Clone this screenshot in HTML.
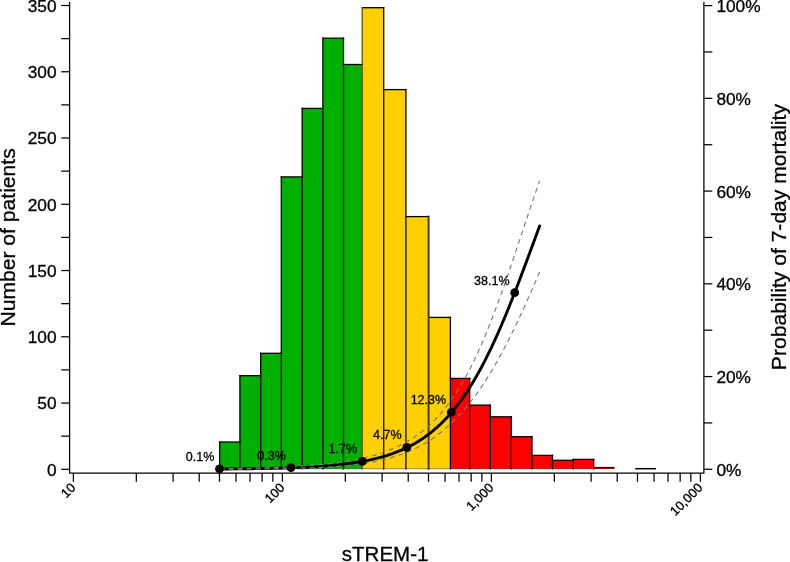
<!DOCTYPE html>
<html><head><meta charset="utf-8"><style>
html,body{margin:0;padding:0;background:#fff;width:790px;height:562px;overflow:hidden}
svg{display:block;font-family:"Liberation Sans",sans-serif;will-change:transform}
text{stroke:#000;stroke-width:0.3px}
</style></head><body>
<svg width="790" height="562" viewBox="0 0 790 562">
<rect width="790" height="562" fill="#fff"/>
<rect x="219.70" y="442.00" width="20.20" height="26.80" fill="#00b000"/>
<rect x="239.90" y="375.70" width="20.80" height="93.10" fill="#00b000"/>
<rect x="260.70" y="353.30" width="20.60" height="115.50" fill="#00b000"/>
<rect x="281.30" y="176.90" width="20.90" height="291.90" fill="#00b000"/>
<rect x="302.20" y="108.40" width="20.70" height="360.40" fill="#00b000"/>
<rect x="322.90" y="38.20" width="20.60" height="430.60" fill="#00b000"/>
<rect x="343.50" y="64.50" width="18.70" height="404.30" fill="#00b000"/>
<rect x="362.20" y="7.70" width="21.50" height="461.10" fill="#ffd000"/>
<rect x="383.70" y="89.60" width="22.20" height="379.20" fill="#ffd000"/>
<rect x="405.90" y="216.60" width="22.70" height="252.20" fill="#ffd000"/>
<rect x="428.60" y="317.40" width="21.80" height="151.40" fill="#ffd000"/>
<rect x="450.40" y="378.40" width="19.30" height="90.40" fill="#ff0000"/>
<rect x="469.70" y="405.10" width="20.60" height="63.70" fill="#ff0000"/>
<rect x="490.30" y="416.80" width="20.90" height="52.00" fill="#ff0000"/>
<rect x="511.20" y="436.70" width="20.80" height="32.10" fill="#ff0000"/>
<rect x="532.00" y="455.40" width="20.50" height="13.40" fill="#ff0000"/>
<rect x="552.50" y="460.30" width="20.70" height="8.50" fill="#ff0000"/>
<rect x="573.20" y="459.40" width="20.50" height="9.40" fill="#ff0000"/>
<rect x="593.70" y="467.30" width="20.70" height="1.50" fill="#ff0000"/>
<g stroke="#000" stroke-width="1.3" fill="none" stroke-linecap="square">
<line x1="219.70" y1="442.00" x2="239.90" y2="442.00"/>
<line x1="239.90" y1="375.70" x2="260.70" y2="375.70"/>
<line x1="260.70" y1="353.30" x2="281.30" y2="353.30"/>
<line x1="281.30" y1="176.90" x2="302.20" y2="176.90"/>
<line x1="302.20" y1="108.40" x2="322.90" y2="108.40"/>
<line x1="322.90" y1="38.20" x2="343.50" y2="38.20"/>
<line x1="343.50" y1="64.50" x2="362.20" y2="64.50"/>
<line x1="362.20" y1="7.70" x2="383.70" y2="7.70"/>
<line x1="383.70" y1="89.60" x2="405.90" y2="89.60"/>
<line x1="405.90" y1="216.60" x2="428.60" y2="216.60"/>
<line x1="428.60" y1="317.40" x2="450.40" y2="317.40"/>
<line x1="450.40" y1="378.40" x2="469.70" y2="378.40"/>
<line x1="469.70" y1="405.10" x2="490.30" y2="405.10"/>
<line x1="490.30" y1="416.80" x2="511.20" y2="416.80"/>
<line x1="511.20" y1="436.70" x2="532.00" y2="436.70"/>
<line x1="532.00" y1="455.40" x2="552.50" y2="455.40"/>
<line x1="552.50" y1="460.30" x2="573.20" y2="460.30"/>
<line x1="573.20" y1="459.40" x2="593.70" y2="459.40"/>
<line x1="219.70" y1="442.00" x2="219.70" y2="468.80" stroke="#000" stroke-width="1.3"/>
<line x1="239.90" y1="375.70" x2="239.90" y2="468.80" stroke="#000" stroke-width="1.3"/>
<line x1="260.70" y1="353.30" x2="260.70" y2="468.80" stroke="#000" stroke-width="1.3"/>
<line x1="281.30" y1="176.90" x2="281.30" y2="468.80" stroke="#000" stroke-width="1.3"/>
<line x1="302.20" y1="108.40" x2="302.20" y2="468.80" stroke="#000" stroke-width="1.3"/>
<line x1="322.90" y1="38.20" x2="322.90" y2="468.80" stroke="#000" stroke-width="1.3"/>
<line x1="343.50" y1="38.20" x2="343.50" y2="468.80" stroke="#000" stroke-width="1.3"/>
<line x1="362.20" y1="7.70" x2="362.20" y2="468.80" stroke="#5a5800" stroke-width="1.3"/>
<line x1="383.70" y1="7.70" x2="383.70" y2="468.80" stroke="#000" stroke-width="1.3"/>
<line x1="405.90" y1="89.60" x2="405.90" y2="468.80" stroke="#000" stroke-width="1.3"/>
<line x1="428.60" y1="216.60" x2="428.60" y2="468.80" stroke="#403800" stroke-width="1.9"/>
<line x1="450.40" y1="317.40" x2="450.40" y2="468.80" stroke="#000" stroke-width="1.3"/>
<line x1="469.70" y1="378.40" x2="469.70" y2="468.80" stroke="#000" stroke-width="1.3"/>
<line x1="490.30" y1="405.10" x2="490.30" y2="468.80" stroke="#000" stroke-width="1.3"/>
<line x1="511.20" y1="416.80" x2="511.20" y2="468.80" stroke="#000" stroke-width="1.3"/>
<line x1="532.00" y1="436.70" x2="532.00" y2="468.80" stroke="#000" stroke-width="1.3"/>
<line x1="552.50" y1="455.40" x2="552.50" y2="468.80" stroke="#000" stroke-width="1.3"/>
<line x1="573.20" y1="459.40" x2="573.20" y2="468.80" stroke="#000" stroke-width="1.3"/>
<line x1="593.70" y1="459.40" x2="593.70" y2="468.80" stroke="#000" stroke-width="1.3"/>
<line x1="219.70" y1="468.80" x2="593.70" y2="468.80" stroke-opacity="0.4" stroke-width="1"/>
</g>
<rect x="593.7" y="467.3" width="20.7" height="1.5" fill="#a00000"/>
<line x1="593.7" y1="467.4" x2="614.4" y2="467.4" stroke="#000" stroke-width="0.9"/>
<line x1="635.2" y1="468.7" x2="656.0" y2="468.7" stroke="#000" stroke-width="1.5"/>
<path d="M219.60,469.02 L222.80,469.00 L226.00,468.97 L229.20,468.95 L232.40,468.92 L235.60,468.89 L238.80,468.86 L242.00,468.83 L245.20,468.79 L248.40,468.75 L251.60,468.71 L254.80,468.66 L258.00,468.61 L261.20,468.56 L264.40,468.50 L267.60,468.43 L270.80,468.37 L274.00,468.29 L277.20,468.22 L280.40,468.13 L283.60,468.04 L286.80,467.94 L290.00,467.84 L293.20,467.72 L296.40,467.60 L299.60,467.47 L302.80,467.33 L306.00,467.18 L309.20,467.01 L312.40,466.83 L315.60,466.64 L318.80,466.44 L322.00,466.21 L325.20,465.98 L328.40,465.72 L331.60,465.44 L334.80,465.14 L338.00,464.82 L341.20,464.48 L344.40,464.11 L347.60,463.71 L350.80,463.27 L354.00,462.81 L357.20,462.31 L360.40,461.78 L363.60,461.20 L366.80,460.58 L370.00,459.92 L373.20,459.20 L376.40,458.43 L379.60,457.61 L382.80,456.72 L386.00,455.77 L389.20,454.74 L392.40,453.65 L395.60,452.47 L398.80,451.21 L402.00,449.86 L405.20,448.41 L408.40,446.86 L411.60,445.20 L414.80,443.43 L418.00,441.54 L421.20,439.51 L424.40,437.35 L427.60,435.04 L430.80,432.58 L434.00,429.96 L437.20,427.17 L440.40,424.21 L443.60,421.06 L446.80,417.72 L450.00,414.17 L453.20,410.42 L456.40,406.45 L459.60,402.26 L462.80,397.84 L466.00,393.18 L469.20,388.28 L472.40,383.14 L475.60,377.75 L478.80,372.11 L482.00,366.22 L485.20,360.07 L488.40,353.68 L491.60,347.04 L494.80,340.17 L498.00,333.06 L501.20,325.72 L504.40,318.18 L507.60,310.43 L510.80,302.50 L514.00,294.40 L517.20,286.15 L520.40,277.77 L523.60,269.28 L526.80,260.70 L530.00,252.06 L533.20,243.38 L536.40,234.67 L539.60,225.98" fill="none" stroke="#000" stroke-width="2.9" stroke-linecap="round"/>
<path d="M219.60,468.70 L222.80,468.66 L226.00,468.62 L229.20,468.57 L232.40,468.52 L235.60,468.47 L238.80,468.42 L242.00,468.36 L245.20,468.29 L248.40,468.23 L251.60,468.15 L254.80,468.08 L258.00,467.99 L261.20,467.91 L264.40,467.81 L267.60,467.71 L270.80,467.60 L274.00,467.49 L277.20,467.37 L280.40,467.24 L283.60,467.10 L286.80,466.95 L290.00,466.79 L293.20,466.62 L296.40,466.44 L299.60,466.25 L302.80,466.04 L306.00,465.82 L309.20,465.59 L312.40,465.34 L315.60,465.07 L318.80,464.79 L322.00,464.48 L325.20,464.16 L328.40,463.81 L331.60,463.44 L334.80,463.04 L338.00,462.62 L341.20,462.16 L344.40,461.68 L347.60,461.17 L350.80,460.61 L354.00,460.02 L357.20,459.40 L360.40,458.72 L363.60,458.01 L366.80,457.24 L370.00,456.42 L373.20,455.54 L376.40,454.60 L379.60,453.60 L382.80,452.53 L386.00,451.39 L389.20,450.16 L392.40,448.86 L395.60,447.46 L398.80,445.96 L402.00,444.36 L405.20,442.65 L408.40,440.82 L411.60,438.87 L414.80,436.77 L418.00,434.54 L421.20,432.14 L424.40,429.59 L427.60,426.85 L430.80,423.93 L434.00,420.81 L437.20,417.49 L440.40,413.94 L443.60,410.16 L446.80,406.13 L450.00,401.85 L453.20,397.30 L456.40,392.48 L459.60,387.37 L462.80,381.97 L466.00,376.27 L469.20,370.27 L472.40,363.95 L475.60,357.33 L478.80,350.40 L482.00,343.16 L485.20,335.62 L488.40,327.80 L491.60,319.70 L494.80,311.33 L498.00,302.73 L501.20,293.89 L504.40,284.86 L507.60,275.65 L510.80,266.30 L514.00,256.83 L517.20,247.28 L520.40,237.68 L523.60,228.06 L526.80,218.45 L530.00,208.90 L533.20,199.44 L536.40,190.09 L539.60,180.89" fill="none" stroke="#7a7a7a" stroke-width="1.15" stroke-dasharray="5,4"/>
<path d="M219.60,469.17 L222.80,469.16 L226.00,469.14 L229.20,469.13 L232.40,469.11 L235.60,469.10 L238.80,469.08 L242.00,469.06 L245.20,469.04 L248.40,469.02 L251.60,468.99 L254.80,468.96 L258.00,468.93 L261.20,468.90 L264.40,468.87 L267.60,468.83 L270.80,468.79 L274.00,468.74 L277.20,468.69 L280.40,468.64 L283.60,468.58 L286.80,468.52 L290.00,468.45 L293.20,468.37 L296.40,468.29 L299.60,468.20 L302.80,468.11 L306.00,468.00 L309.20,467.89 L312.40,467.77 L315.60,467.63 L318.80,467.49 L322.00,467.33 L325.20,467.15 L328.40,466.97 L331.60,466.76 L334.80,466.54 L338.00,466.31 L341.20,466.05 L344.40,465.76 L347.60,465.46 L350.80,465.13 L354.00,464.77 L357.20,464.38 L360.40,463.96 L363.60,463.51 L366.80,463.01 L370.00,462.48 L373.20,461.90 L376.40,461.28 L379.60,460.61 L382.80,459.88 L386.00,459.10 L389.20,458.26 L392.40,457.35 L395.60,456.37 L398.80,455.32 L402.00,454.19 L405.20,452.97 L408.40,451.67 L411.60,450.28 L414.80,448.79 L418.00,447.20 L421.20,445.50 L424.40,443.68 L427.60,441.75 L430.80,439.70 L434.00,437.51 L437.20,435.20 L440.40,432.74 L443.60,430.14 L446.80,427.40 L450.00,424.50 L453.20,421.44 L456.40,418.22 L459.60,414.83 L462.80,411.27 L466.00,407.53 L469.20,403.62 L472.40,399.52 L475.60,395.23 L478.80,390.76 L482.00,386.10 L485.20,381.24 L488.40,376.20 L491.60,370.96 L494.80,365.52 L498.00,359.90 L501.20,354.09 L504.40,348.09 L507.60,341.91 L510.80,335.56 L514.00,329.04 L517.20,322.36 L520.40,315.53 L523.60,308.56 L526.80,301.45 L530.00,294.22 L533.20,286.89 L536.40,279.46 L539.60,271.96" fill="none" stroke="#7a7a7a" stroke-width="1.15" stroke-dasharray="5,4"/>
<circle cx="219.5" cy="468.9" r="4.4" fill="#000"/>
<circle cx="291.0" cy="467.6" r="4.4" fill="#000"/>
<circle cx="362.3" cy="461.4" r="4.4" fill="#000"/>
<circle cx="406.8" cy="447.4" r="4.4" fill="#000"/>
<circle cx="451.3" cy="412.4" r="4.4" fill="#000"/>
<circle cx="514.7" cy="292.7" r="4.4" fill="#000"/>
<g font-size="12.5" fill="#000" text-anchor="end">
<text x="214.3" y="460.9">0.1%</text>
<text x="285.8" y="459.6">0.3%</text>
<text x="357.1" y="453.4">1.7%</text>
<text x="401.6" y="439.4">4.7%</text>
<text x="446.1" y="404.4">12.3%</text>
<text x="509.5" y="284.7">38.1%</text>
</g>
<g stroke="#000" stroke-width="1.25" fill="none" stroke-linejoin="round">
<path d="M69.6,2.0 V473.0 H703.9 V2.0"/>
<line x1="61.2" y1="469.30" x2="69.6" y2="469.30"/>
<line x1="61.2" y1="436.17" x2="69.6" y2="436.17"/>
<line x1="61.2" y1="403.04" x2="69.6" y2="403.04"/>
<line x1="61.2" y1="369.91" x2="69.6" y2="369.91"/>
<line x1="61.2" y1="336.79" x2="69.6" y2="336.79"/>
<line x1="61.2" y1="303.66" x2="69.6" y2="303.66"/>
<line x1="61.2" y1="270.53" x2="69.6" y2="270.53"/>
<line x1="61.2" y1="237.40" x2="69.6" y2="237.40"/>
<line x1="61.2" y1="204.27" x2="69.6" y2="204.27"/>
<line x1="61.2" y1="171.14" x2="69.6" y2="171.14"/>
<line x1="61.2" y1="138.01" x2="69.6" y2="138.01"/>
<line x1="61.2" y1="104.89" x2="69.6" y2="104.89"/>
<line x1="61.2" y1="71.76" x2="69.6" y2="71.76"/>
<line x1="61.2" y1="38.63" x2="69.6" y2="38.63"/>
<line x1="61.2" y1="5.50" x2="69.6" y2="5.50"/>
<line x1="703.9" y1="469.30" x2="712.3" y2="469.30"/>
<line x1="703.9" y1="422.93" x2="712.3" y2="422.93"/>
<line x1="703.9" y1="376.56" x2="712.3" y2="376.56"/>
<line x1="703.9" y1="330.19" x2="712.3" y2="330.19"/>
<line x1="703.9" y1="283.82" x2="712.3" y2="283.82"/>
<line x1="703.9" y1="237.45" x2="712.3" y2="237.45"/>
<line x1="703.9" y1="191.08" x2="712.3" y2="191.08"/>
<line x1="703.9" y1="144.71" x2="712.3" y2="144.71"/>
<line x1="703.9" y1="98.34" x2="712.3" y2="98.34"/>
<line x1="703.9" y1="51.97" x2="712.3" y2="51.97"/>
<line x1="703.9" y1="5.60" x2="712.3" y2="5.60"/>
<line x1="73.40" y1="473.0" x2="73.40" y2="481.8"/>
<line x1="136.32" y1="473.0" x2="136.32" y2="481.8"/>
<line x1="173.12" y1="473.0" x2="173.12" y2="481.8"/>
<line x1="199.23" y1="473.0" x2="199.23" y2="481.8"/>
<line x1="219.48" y1="473.0" x2="219.48" y2="481.8"/>
<line x1="236.03" y1="473.0" x2="236.03" y2="481.8"/>
<line x1="250.03" y1="473.0" x2="250.03" y2="481.8"/>
<line x1="262.15" y1="473.0" x2="262.15" y2="481.8"/>
<line x1="272.84" y1="473.0" x2="272.84" y2="481.8"/>
<line x1="282.40" y1="473.0" x2="282.40" y2="481.8"/>
<line x1="345.32" y1="473.0" x2="345.32" y2="481.8"/>
<line x1="382.12" y1="473.0" x2="382.12" y2="481.8"/>
<line x1="408.23" y1="473.0" x2="408.23" y2="481.8"/>
<line x1="428.48" y1="473.0" x2="428.48" y2="481.8"/>
<line x1="445.03" y1="473.0" x2="445.03" y2="481.8"/>
<line x1="459.03" y1="473.0" x2="459.03" y2="481.8"/>
<line x1="471.15" y1="473.0" x2="471.15" y2="481.8"/>
<line x1="481.84" y1="473.0" x2="481.84" y2="481.8"/>
<line x1="491.40" y1="473.0" x2="491.40" y2="481.8"/>
<line x1="554.32" y1="473.0" x2="554.32" y2="481.8"/>
<line x1="591.12" y1="473.0" x2="591.12" y2="481.8"/>
<line x1="617.23" y1="473.0" x2="617.23" y2="481.8"/>
<line x1="637.48" y1="473.0" x2="637.48" y2="481.8"/>
<line x1="654.03" y1="473.0" x2="654.03" y2="481.8"/>
<line x1="668.03" y1="473.0" x2="668.03" y2="481.8"/>
<line x1="680.15" y1="473.0" x2="680.15" y2="481.8"/>
<line x1="690.84" y1="473.0" x2="690.84" y2="481.8"/>
<line x1="700.40" y1="473.0" x2="700.40" y2="481.8"/>
</g>
<g font-size="17.3" fill="#000" text-anchor="end">
<text x="56.6" y="475.60">0</text>
<text x="56.6" y="409.34">50</text>
<text x="56.6" y="343.09">100</text>
<text x="56.6" y="276.83">150</text>
<text x="56.6" y="210.57">200</text>
<text x="56.6" y="144.31">250</text>
<text x="56.6" y="78.06">300</text>
<text x="56.6" y="11.80">350</text>
</g>
<g font-size="17.3" fill="#000" text-anchor="start">
<text x="716.4" y="475.80">0%</text>
<text x="716.4" y="383.06">20%</text>
<text x="716.4" y="290.32">40%</text>
<text x="716.4" y="197.58">60%</text>
<text x="716.4" y="104.84">80%</text>
<text x="716.4" y="12.10">100%</text>
</g>
<g font-size="13" fill="#000" text-anchor="end">
<text transform="translate(76.40,488.5) rotate(-45)">10</text>
<text transform="translate(285.40,488.5) rotate(-45)">100</text>
<text transform="translate(494.40,488.5) rotate(-45)">1,000</text>
<text transform="translate(703.40,488.5) rotate(-45)">10,000</text>
</g>
<g font-size="21.1" fill="#000" text-anchor="middle">
<text x="385.1" y="560.9" font-size="20.5">sTREM-1</text>
<text transform="translate(15.1,237.4) rotate(-90)">Number of patients</text>
<text transform="translate(785.9,237.1) rotate(-90)">Probability of 7-day mortality</text>
</g>
</svg>
</body></html>
